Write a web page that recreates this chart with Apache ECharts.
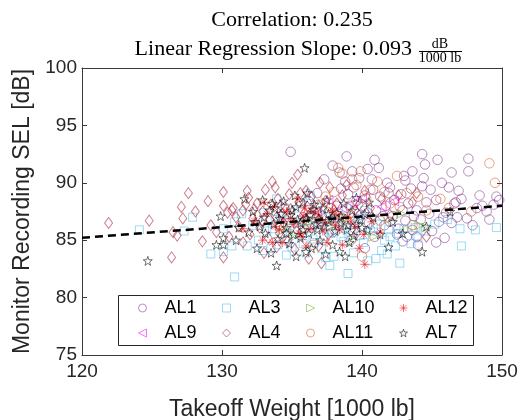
<!DOCTYPE html>
<html>
<head>
<meta charset="utf-8">
<script src="https://cdn.jsdelivr.net/npm/echarts@6/dist/echarts.min.js"></script>
<style>html,body{margin:0;padding:0;background:#fff}#c{width:529px;height:420px}</style>
</head>
<body>
<div id="c"></div>
<script>
// ---- Data (Takeoff weight [1000 lb], Monitor SEL [dB]) ----
const xTicks = [120, 130, 140, 150];
const yTicks = [75, 80, 85, 90, 95, 100];
const titleLine1 = 'Correlation: 0.235';
const titleLine2 = 'Linear Regression Slope: 0.093';
const fracTop = 'dB';
const fracBottom = '1000 lb';
const xName = 'Takeoff Weight [1000 lb]';
const yName = 'Monitor Recording SEL [dB]';

const regX = [120, 150];
const regY = [85.21, 88.0];

const AL1 = [[134.9,92.7],[138.9,92.3],[137.9,91.5],[138.4,90.9],[139.3,91.0],[140.4,91.2],[140.9,92.0],[144.3,92.5],[144.5,91.6],[145.4,92.0],[147.6,92.1],[147.6,91.0],[146.4,90.9],[143.6,91.0],[143.1,90.2],[141.8,90.0],[142.0,89.6],[145.3,88.5],[146.7,88.3],[147.1,88.6],[148.6,88.0],[149.6,88.8],[149.4,88.1],[146.4,86.5],[145.3,84.8],[143.2,85.3],[143.9,85.3],[144.6,88.3],
[138.5,89.5],[139.0,89.0],[139.6,88.4],[140.2,88.9],[140.8,89.4],[141.3,88.8],[141.7,88.0],[142.3,88.5],[142.8,89.0],[143.3,88.2],[143.9,87.6],[144.2,86.8],[144.8,87.3],[145.5,86.6],[146.0,87.4],[146.8,87.0],[147.5,86.9],[148.2,87.8],[148.9,87.5],[149.8,88.5],[138.2,88.0],[137.6,87.4],[139.9,87.2],[140.5,86.5],[141.0,87.6],[141.6,86.3],[142.2,87.1],[142.6,86.0],[143.1,86.7],[143.6,85.9],[144.0,84.6],[145.0,85.8],[145.9,85.2],[139.5,86.0],[140.9,85.3],[142.9,84.9],[138.8,90.1],[139.8,90.4],[141.2,91.3],[143.5,89.5],[144.9,89.4],[146.2,89.6],[136.8,89.1],[137.3,90.3],[136.2,88.4],[135.8,87.0],[139.2,85.0],[140.2,84.3],[137.9,85.7],[147.9,86.3],[149.1,86.8],[146.6,88.2],[145.7,90.0],[144.4,90.4],
[140.0,87.9],[141.5,87.1],[142.9,87.6],[140.7,90.3],[143.0,90.6],[144.3,89.7],[146.9,89.3],[148.4,88.9],[145.8,87.0],[142.5,85.5],
[139.4,89.6],[141.9,89.1],[140.4,87.4],[142.0,86.6],[143.7,87.1]];

const AL9 = [[138.6,87.8],[140.0,88.7],[141.4,87.9],[139.3,88.2],[137.6,88.5],[136.8,87.5],[142.3,88.4]];

const AL3 = [[127.9,87.0],[124.1,85.9],[127.3,85.8],[129.2,83.8],[130.1,84.0],[130.9,81.8],[130.7,84.5],[131.8,84.5],[130.1,86.0],[132.9,84.1],[133.5,84.3],[139.0,82.1],[141.0,83.4],[141.4,84.1],[137.4,83.5],[134.6,83.7],[147.0,86.0],[148.1,85.9],[149.6,86.1],[147.1,84.5],[146.1,86.8],[144.0,85.2],[142.0,85.3],[133.0,87.4],[133.8,86.8],[134.3,85.6],[134.9,86.3],[135.3,87.1],[135.7,85.4],[136.1,86.7],[136.5,85.1],[137.0,86.1],[137.4,87.0],[137.8,85.6],[138.3,86.4],[138.7,84.9],[139.2,85.7],[139.7,86.9],[140.1,84.8],[140.6,85.8],[141.1,86.4],[141.6,85.0],[142.4,84.5],[143.0,86.0],[143.5,84.7],[144.5,85.8],[145.2,86.4],[132.2,86.3],[132.6,85.0],[133.2,85.8],[134.0,84.6],[135.0,84.4],[136.0,83.9],[137.1,84.3],[138.0,83.6],[139.4,83.9],[140.4,83.2],[141.8,83.8],[135.6,88.2],[136.8,87.9],[134.5,87.8],[138.9,87.8],[140.2,87.6],[130.9,86.6],[131.4,87.3],[133.9,88.6],[136.3,88.9],[142.7,83.0],[137.7,82.8],
[133.6,86.0],[134.7,85.1],[135.9,86.0],[136.6,84.8],[137.6,85.9],[138.5,85.3],[139.5,86.4],[140.8,86.1],[141.9,85.9],[134.2,87.1],[136.9,86.5],[138.1,86.7],[139.9,85.4],[142.6,85.6],[143.8,86.1],
[135.2,85.8],[136.3,86.3],[137.3,85.3],[138.8,86.1],[134.8,86.7],[135.8,84.7]];

const AL4 = [[121.9,86.5],[124.8,86.7],[126.4,83.5],[127.6,89.1],[127.1,87.9],[127.2,86.9],[126.5,85.7],[126.8,85.4],[130.1,89.2],[130.1,88.0],[130.1,83.5],[130.7,87.6],[131.0,87.0],[133.6,90.1],[133.1,89.4],[131.9,88.7],[130.8,87.8],[130.4,87.4],[131.5,87.6],[132.2,86.9],[129.6,85.7],[131.5,84.8],[133.9,84.4],[134.1,85.6],[135.4,90.7],[137.0,90.0],[137.7,89.6],[135.0,90.0],[136.2,83.4],[137.1,83.0],[135.2,84.2],[143.9,89.1],[144.6,85.3],[143.6,88.3],[132.5,88.2],[132.9,87.5],[133.4,86.8],[134.0,88.6],[134.5,87.9],[134.8,89.0],[135.5,88.3],[135.9,87.4],[136.4,88.8],[136.8,87.0],[137.4,88.4],[138.0,87.6],[138.6,88.9],[139.2,87.3],[139.8,88.1],[140.6,87.8],[141.4,88.6],[142.0,87.2],[131.2,86.2],[132.0,85.5],[132.7,86.1],[133.3,85.2],[134.4,86.5],[135.7,85.8],[136.6,86.2],[137.6,85.5],[138.4,86.4],[139.6,85.6],[129.2,86.3],[128.6,84.9],[130.5,85.3],[131.8,89.3],[133.8,89.6],[136.0,89.3],[138.9,89.8],[140.2,89.3],[142.6,88.9],[134.7,84.9],[136.9,84.5],[133.0,83.9],[128.1,87.5],[129.0,88.4],
[132.3,87.7],[133.5,88.1],[134.3,87.3],[135.2,86.5],[136.1,87.9],[137.1,86.5],[138.2,88.2],[139.5,87.6],[135.6,89.1],[131.7,88.1],
[133.9,87.0],[134.9,87.7],[135.9,86.8],[136.9,88.0],[137.9,86.9],[132.8,86.6],[134.2,88.0],[136.3,87.3]];

const AL10 = [[144.1,86.3],[144.6,86.1],[139.4,85.0],[140.8,85.3],[134.4,85.9],[136.2,86.6],[137.8,86.2],[138.9,87.0],[141.9,86.8],[142.8,87.3],[135.3,85.4],[143.3,85.9]];

const AL11 = [[149.1,91.7],[149.5,90.0],[147.8,87.5],[140.0,83.6],[139.3,90.3],[140.6,89.4],[141.1,90.1],[138.0,89.2],[139.6,89.8],[143.2,89.1],[138.6,90.8],[139.9,91.0],[140.3,88.6],[141.6,89.2],[142.0,88.2],[137.4,88.8],[136.9,88.1],[137.8,87.8],[142.7,87.9],[144.0,88.8],[144.6,87.6],[145.6,88.6],[146.2,87.8],[143.6,86.3],[135.8,86.1],[134.6,85.7],[136.5,84.6],[138.6,86.9],[141.3,86.7],[139.1,88.0],[142.5,90.6],[138.3,91.3]];

const AL12 = [[140.2,82.9],[133.6,84.8],[137.5,84.8],[135.7,85.3],[134.3,84.8],[132.9,85.0],[131.5,86.0],[132.3,86.7],[133.2,87.3],[133.8,86.2],[134.6,87.5],[135.1,86.4],[135.9,87.8],[136.3,86.0],[136.9,87.2],[137.4,86.5],[137.9,87.6],[138.4,85.9],[139.0,87.0],[139.5,86.2],[140.1,85.5],[140.7,86.6],[141.3,85.7],[134.1,85.9],[136.0,84.5],[138.6,84.6],[133.0,88.3],[135.4,88.6],[137.2,85.8],[139.8,84.3],
[134.9,86.9],[136.5,87.5],[138.1,86.3],[133.7,87.9],[135.5,85.6],[139.2,86.6],
[134.4,86.6],[135.8,87.1],[137.0,86.8],[138.3,87.2]];

const AL7 = [[124.7,83.2],[129.9,87.1],[131.6,88.6],[132.9,88.5],[133.6,88.2],[132.2,87.5],[130.1,85.2],[129.6,84.6],[130.1,84.6],[133.5,83.9],[133.9,82.8],[132.5,84.3],[135.9,91.3],[136.1,89.1],[136.4,84.3],[138.4,84.0],[141.9,84.4],[142.9,85.6],[144.3,84.0],[144.6,86.2],[146.3,87.5],[133.0,87.0],[133.7,86.4],[134.2,87.3],[134.6,86.1],[135.0,87.6],[135.4,86.8],[135.8,85.9],[136.3,87.2],[136.7,86.4],[137.2,87.8],[137.6,86.7],[138.1,85.8],[138.5,87.1],[139.0,86.3],[139.4,85.4],[139.9,86.8],[140.4,85.9],[140.8,87.0],[141.3,85.5],[131.2,86.1],[131.9,85.7],[132.4,86.6],[134.0,85.1],[134.8,84.7],[135.6,85.2],[137.0,85.0],[137.9,84.6],[139.1,84.8],[134.4,88.4],[135.2,88.9],[136.6,88.1],[137.5,88.5],[138.7,88.2],[139.6,88.7],[140.5,88.3],[133.1,85.6],[136.0,84.0],[137.4,83.8],[138.8,83.6],[135.3,83.6],[131.0,85.0],[142.2,86.6],
[134.1,86.9],[134.9,87.2],[135.6,86.5],[136.2,85.6],[136.9,86.9],[137.3,86.2],[138.2,87.4],[138.9,85.9],[139.6,86.4],[140.2,87.3],[133.4,87.6],[132.7,86.2],[135.1,85.5],[136.5,87.7],[137.8,86.9],
[133.8,87.8],[134.6,85.6],[135.3,87.9],[136.0,86.9],[136.8,85.9],[137.6,87.3],[138.5,86.5],[139.3,87.6],[140.0,86.1],[135.8,88.3]];

// ---- Styling ----
const STAR = 'path://M0,-10 L2.35,-3.24 L9.51,-3.09 L3.8,1.24 L5.88,8.09 L0,4 L-5.88,8.09 L-3.8,1.24 L-9.51,-3.09 L-2.35,-3.24 Z';
const TRI_R = 'path://M0,0 L10,5 L0,10 Z';
const TRI_L = 'path://M10,0 L0,5 L10,10 Z';
const ASTER = 'path://M5,0 L5,10 M0,5 L10,5 M1.5,1.5 L8.5,8.5 M8.5,1.5 L1.5,8.5';

const seriesDefs = [
  {name:'AL1', data:AL1, symbol:'circle', size:9.5, color:'#7E2F8E'},
  {name:'AL9', data:AL9, symbol:TRI_L, size:9, color:'#FF00FF'},
  {name:'AL3', data:AL3, symbol:'rect', size:8, color:'#4DBEEE'},
  {name:'AL4', data:AL4, symbol:'diamond', size:[8,11], color:'#A2142F'},
  {name:'AL10', data:AL10, symbol:TRI_R, size:9, color:'#77AC30'},
  {name:'AL11', data:AL11, symbol:'circle', size:9.5, color:'#D95319'},
  {name:'AL12', data:AL12, symbol:ASTER, size:9, color:'#FF0000'},
  {name:'AL7', data:AL7, symbol:STAR, size:9, color:'#000000'}
];

const legendLayout = [
  ['AL1', 138, 299], ['AL3', 222, 299], ['AL10', 306, 299], ['AL12', 399, 299],
  ['AL9', 138, 324], ['AL4', 222, 324], ['AL11', 306, 324], ['AL7', 399, 324]
];

const SANS = 'Liberation Sans, Arial, Helvetica, sans-serif';
const SERIF = 'Liberation Serif, Times New Roman, serif';
const AX = '#3a3a3a';

const series = seriesDefs.map(s => ({
  name: s.name, type: 'scatter', data: s.data,
  symbol: s.symbol, symbolSize: s.size,
  itemStyle: {color: 'rgba(0,0,0,0)', borderColor: s.color, borderWidth: 1, opacity: 0.55},
  emphasis: {disabled: true}, z: 2
}));
series.push({
  name: 'reg', type: 'line', data: regX.map((x, i) => [x, regY[i]]),
  symbol: 'none', lineStyle: {color: '#000', width: 2.5, type: [8, 5]}, z: 10, silent: true
});

const legends = legendLayout.map(([n, l, t]) => ({
  data: [n], left: l, top: t, orient: 'horizontal', padding: 0,
  itemWidth: 8, itemHeight: 8, selectedMode: false, z: 20,
  itemStyle: {borderWidth: 1},
  textStyle: {fontFamily: SANS, fontSize: 18, color: '#000', padding: [0, 0, 0, 13]}
}));

const chart = echarts.init(document.getElementById('c'), null, {renderer: 'canvas'});
chart.setOption({
  animation: false,
  backgroundColor: '#fff',
  grid: {left: 82, right: 27, top: 68, bottom: 65, containLabel: false, outerBoundsMode: 'none'},
  xAxis: [{
    type: 'value', min: xTicks[0], max: xTicks[xTicks.length - 1], interval: 10,
    name: xName, nameLocation: 'middle', nameGap: 43,
    nameTextStyle: {fontFamily: SANS, fontSize: 23, color: '#262626'},
    axisLine: {show: true, lineStyle: {color: AX, width: 1}},
    axisTick: {show: true, inside: true, length: 5, lineStyle: {color: AX}},
    axisLabel: {fontFamily: SANS, fontSize: 19, color: '#262626', margin: 7},
    splitLine: {show: false}
  }, {
    type: 'value', position: 'top', min: xTicks[0], max: xTicks[xTicks.length - 1], interval: 10,
    axisLine: {show: true, lineStyle: {color: AX, width: 1}},
    axisTick: {show: true, inside: true, length: 5, lineStyle: {color: AX}},
    axisLabel: {show: false}, splitLine: {show: false}
  }],
  yAxis: [{
    type: 'value', min: yTicks[0], max: yTicks[yTicks.length - 1], interval: 5,
    name: yName, nameLocation: 'middle', nameGap: 42,
    nameTextStyle: {fontFamily: SANS, fontSize: 23, color: '#262626'},
    axisLine: {show: true, lineStyle: {color: AX, width: 1}},
    axisTick: {show: true, inside: true, length: 5, lineStyle: {color: AX}},
    axisLabel: {fontFamily: SANS, fontSize: 19, color: '#262626', margin: 5},
    splitLine: {show: false}
  }, {
    type: 'value', position: 'right', min: yTicks[0], max: yTicks[yTicks.length - 1], interval: 5,
    axisLine: {show: true, lineStyle: {color: AX, width: 1}},
    axisTick: {show: true, inside: true, length: 5, lineStyle: {color: AX}},
    axisLabel: {show: false}, splitLine: {show: false}
  }],
  legend: legends,
  graphic: [
    {type: 'rect', z: 15, shape: {x: 118.5, y: 295.5, width: 355, height: 50},
     style: {fill: '#fff', stroke: '#262626', lineWidth: 1}},
    {type: 'text', z: 15, x: 292, y: 20,
     style: {text: titleLine1, font: '22px ' + SERIF, fill: '#000', textAlign: 'center', textVerticalAlign: 'middle'}},
    {type: 'text', z: 15, x: 412, y: 49,
     style: {text: titleLine2, font: '22px ' + SERIF, fill: '#000', textAlign: 'right', textVerticalAlign: 'middle'}},
    {type: 'text', z: 15, x: 440, y: 44,
     style: {text: fracTop, font: '14px ' + SERIF, fill: '#000', textAlign: 'center', textVerticalAlign: 'middle'}},
    {type: 'line', z: 15, shape: {x1: 419, y1: 51.5, x2: 462, y2: 51.5}, style: {stroke: '#000', lineWidth: 1}},
    {type: 'text', z: 15, x: 440, y: 58.5,
     style: {text: fracBottom, font: '14px ' + SERIF, fill: '#000', textAlign: 'center', textVerticalAlign: 'middle'}}
  ],
  series: series
});
</script>
</body>
</html>
